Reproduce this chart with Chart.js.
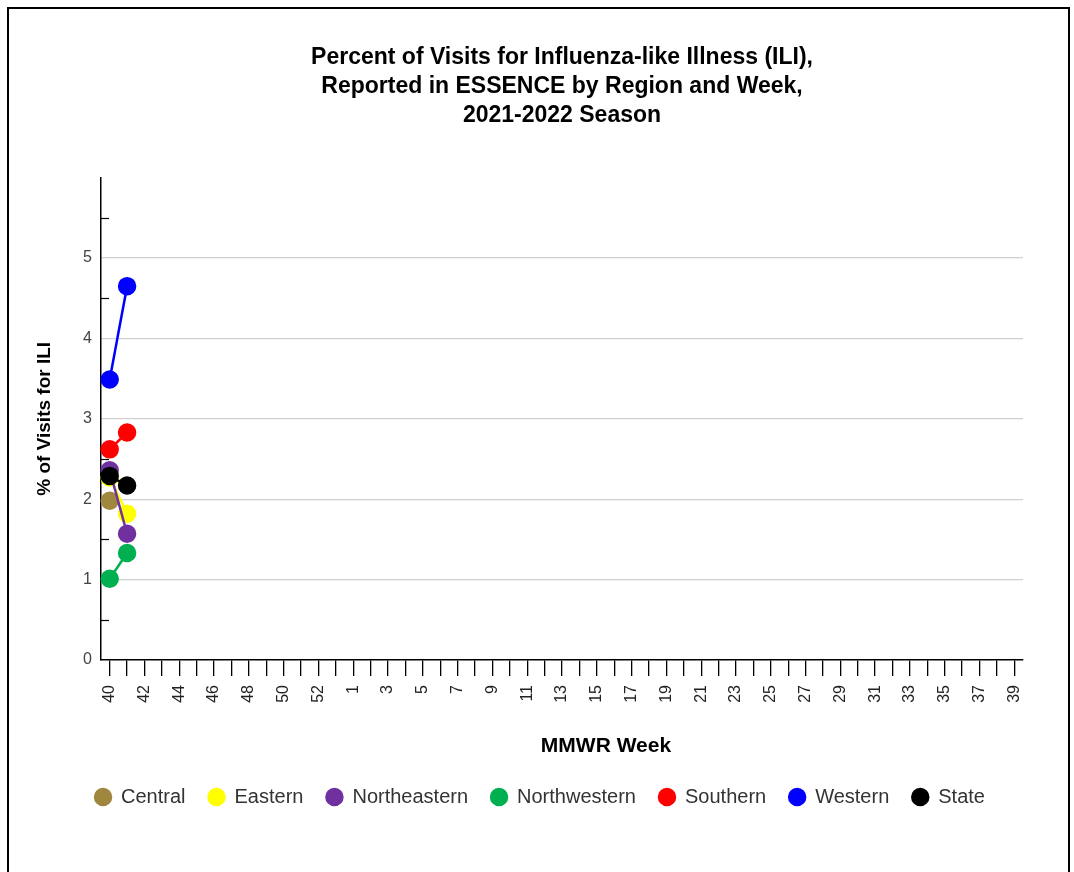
<!DOCTYPE html>
<html>
<head>
<meta charset="utf-8">
<script src="https://cdn.jsdelivr.net/npm/chart.js@4.4.1/dist/chart.umd.min.js"></script>
<style>
  html, body { margin: 0; padding: 0; background: #fff; }
  #frame { position: absolute; left: 7px; top: 7px; width: 1059px; height: 880px; border: 2px solid #000; border-bottom: none; }
  #wrap { position: absolute; left: 0; top: 0; width: 1074px; height: 872px; }
</style>
</head>
<body>
<div id="frame"></div>
<div id="wrap"><canvas id="c" width="1074" height="872"></canvas></div>
<script>
const weeks = ['40','41','42','43','44','45','46','47','48','49','50','51','52','53',
  '1','2','3','4','5','6','7','8','9','10','11','12','13','14','15','16','17','18','19','20',
  '21','22','23','24','25','26','27','28','29','30','31','32','33','34','35','36','37','38','39'];
const regionNames = ['Central','Eastern','Northeastern','Northwestern','Southern','Western','State'];
const regionColors = ['#a0873f','#ffff00','#7030a0','#00b050','#ff0000','#0000ff','#000000'];
const central      = [1.98, null];
const eastern      = [2.27, 1.82];
const northeastern = [2.36, 1.57];
const northwestern = [1.01, 1.33];
const southern     = [2.62, 2.83];
const western      = [3.49, 4.65];
const state        = [2.29, 2.17];
const yTickValues  = [0, 1, 2, 3, 4, 5];

const seriesValues = [central, eastern, northeastern, northwestern, southern, western, state];

function pad(arr) { const out = weeks.map(() => null); arr.forEach((v, i) => out[i] = v); return out; }

const datasets = regionNames.map((name, i) => ({
  label: name,
  data: pad(seriesValues[i]),
  borderColor: regionColors[i],
  backgroundColor: regionColors[i],
  pointBackgroundColor: regionColors[i],
  pointBorderColor: regionColors[i],
  pointRadius: 8,
  pointHoverRadius: 8,
  borderWidth: 2.5,
  spanGaps: false,
  order: regionNames.length - i
}));

const font = "'Liberation Sans', Arial, sans-serif";

const extras = {
  id: 'extras',
  beforeDatasetsDraw(chart) {
    const ctx = chart.ctx, y = chart.scales.y, x0 = chart.chartArea.left;
    ctx.save();
    ctx.strokeStyle = '#000';
    ctx.lineWidth = 1.2;
    for (let v = 0.5; v < 6; v += 1) {
      const py = Math.round(y.getPixelForValue(v)) + 0.5;
      ctx.beginPath(); ctx.moveTo(x0, py); ctx.lineTo(x0 + 8, py); ctx.stroke();
    }
    ctx.restore();
  },
  afterDraw(chart) {
    const ctx = chart.ctx;
    ctx.save();
    ctx.fillStyle = '#000';
    ctx.font = "bold 21px " + font;
    ctx.textAlign = 'center';
    ctx.textBaseline = 'middle';
    ctx.fillText('MMWR Week', 606, 746);
    ctx.restore();
  }
};

new Chart(document.getElementById('c'), {
  type: 'line',
  data: { labels: weeks, datasets },
  plugins: [extras],
  options: {
    responsive: false,
    animation: false,
    events: [],
    layout: { padding: { left: 57, right: 51, top: 31, bottom: 55 } },
    plugins: {
      tooltip: { enabled: false },
      title: {
        display: true,
        fullSize: false,
        text: ['Percent of Visits for Influenza-like Illness (ILI),', 'Reported in ESSENCE by Region and Week,', '2021-2022 Season'],
        color: '#000',
        font: { family: font, size: 23, weight: 'bold', lineHeight: 1.27 },
        padding: { top: 12, bottom: 47 }
      },
      legend: {
        position: 'bottom',
        fullSize: true,
        labels: {
          usePointStyle: true,
          pointStyle: 'circle',
          boxWidth: 16,
          boxHeight: 11.3,
          pointStyleWidth: 16,
          padding: 23,
          color: '#333',
          font: { family: font, size: 20 },
          sort: (a, b) => a.datasetIndex - b.datasetIndex
        }
      }
    },
    scales: {
      x: {
        type: 'category',
        offset: true,
        grid: { display: true, drawOnChartArea: false, drawTicks: true, tickLength: 16, color: '#000', lineWidth: 1.3, offset: false },
        border: { display: true, color: '#000', width: 1.5 },
        ticks: {
          autoSkip: false, maxRotation: 90, minRotation: 90, padding: 9,
          color: '#222', font: { family: font, size: 16 },
          callback: (v, i) => (i % 2 === 0 ? weeks[i] : '')
        },
        afterFit: (s) => { s.height = 104; }
      },
      y: {
        min: 0, max: 6,
        grid: {
          drawTicks: false,
          color: (c) => (yTickValues.includes(c.tick.value) && c.tick.value > 0 ? '#d0d0d0' : 'rgba(0,0,0,0)'),
          lineWidth: 1.2
        },
        border: { display: true, color: '#000', width: 1.5 },
        ticks: {
          stepSize: 0.5, autoSkip: false, padding: 9,
          color: '#444', font: { family: font, size: 16 },
          callback: (v) => (yTickValues.includes(v) ? String(v) : '')
        },
        title: {
          display: true, text: '% of Visits for ILI', color: '#000',
          font: { family: font, size: 19, weight: 'bold' },
          padding: { top: -24, bottom: 0 }
        },
        afterFit: (s) => { s.width = 44; }
      }
    }
  }
});
</script>
</body>
</html>
